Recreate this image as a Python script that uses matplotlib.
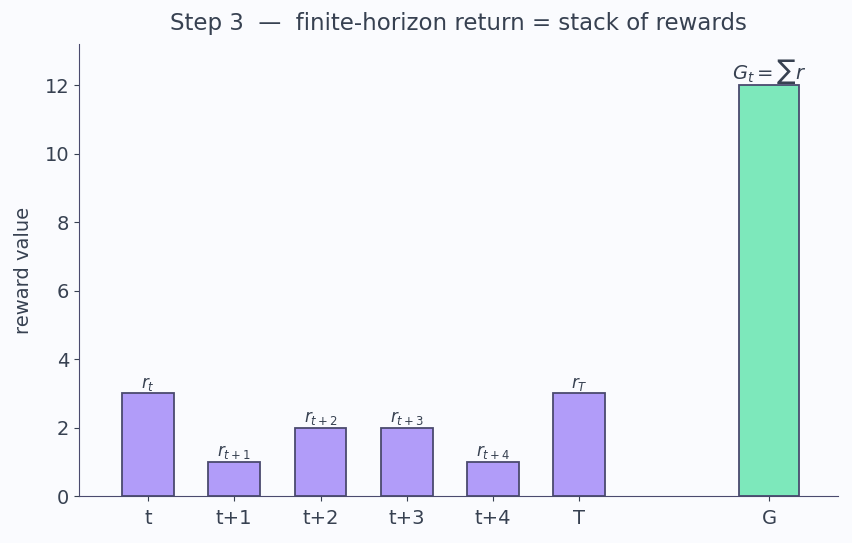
import matplotlib
matplotlib.use("Agg")
import matplotlib.pyplot as plt

categories = ["t", "t+1", "t+2", "t+3", "t+4", "T"]
rewards = [3, 1, 2, 2, 1, 3]
reward_labels = [r"$r_t$", r"$r_{t+1}$", r"$r_{t+2}$", r"$r_{t+3}$", r"$r_{t+4}$", r"$r_T$"]
total_label = "G"
total_value = sum(rewards)
total_text = r"$G_t = \sum r$"

bg = "#fafbfe"
text_c = "#374151"
edge_c = "#4a4a6e"

plt.rcParams["font.family"] = ["DejaVu Sans"]
fig = plt.figure(figsize=(8.52, 5.43), dpi=100, facecolor=bg)
ax = fig.add_axes([79/852, 1-496/543, (838-79)/852, (496-44)/543])
ax.set_facecolor(bg)

xs = list(range(len(categories)))
ax.bar(xs, rewards, width=0.6, color="#b19cf9", edgecolor=edge_c, linewidth=1.3)
gx = 7.2
ax.bar([gx], [total_value], width=0.7, color="#7de8bb", edgecolor=edge_c, linewidth=1.3)

for x, v, lab in zip(xs, rewards, reward_labels):
    ax.text(x, v + 0.02, lab, ha="center", va="bottom", fontsize=12, color=text_c)
ax.text(gx, total_value - 0.02, total_text, ha="center", va="bottom", fontsize=14, color=text_c)

ax.set_xticks(xs + [gx])
ax.set_xticklabels(categories + [total_label])
ax.set_xlim(-0.8, 8.0)
ax.set_ylim(0, 13.2)
ax.set_yticks([0, 2, 4, 6, 8, 10, 12])
ax.set_ylabel("reward value", fontsize=14, color=text_c, labelpad=8)
ax.set_title("Step 3  —  finite-horizon return = stack of rewards", fontsize=16.5, color=text_c, pad=10)
ax.tick_params(colors=text_c, labelsize=14)
ax.tick_params(axis="x", pad=6)
for s in ["top", "right"]:
    ax.spines[s].set_visible(False)
for s in ["left", "bottom"]:
    ax.spines[s].set_color(edge_c)

fig.savefig("out.png", dpi=100, facecolor=bg)
